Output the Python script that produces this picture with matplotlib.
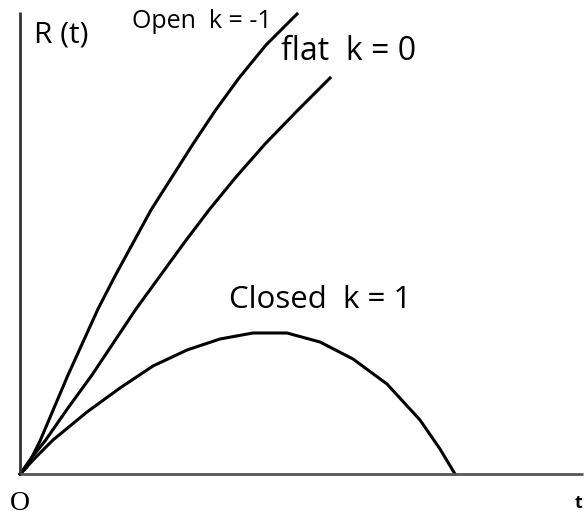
import matplotlib.pyplot as plt

# curve samples (t, R), origin at axis corner
open_t = [0, 7, 20, 34, 48, 63, 78, 95, 113, 131, 152, 173, 195, 219, 246, 277]
open_R = [0, 7, 33, 66, 99, 132, 165, 198, 231, 264, 297, 330, 363, 396, 429, 460]

flat_t = [0, 12, 25, 48, 72, 94, 116, 140, 164, 189, 216, 245, 277, 310]
flat_R = [0, 17, 33, 66, 99, 132, 165, 198, 231, 264, 297, 330, 363, 396]

closed_t = [0, 17, 33, 67, 100, 133, 167, 200, 233, 267, 300, 333, 367, 400, 420, 435]
closed_R = [0, 18, 34, 62, 86, 108, 124, 135, 141, 141, 132, 115, 90, 54, 25, 0]

plt.rcParams['font.family'] = ['Open Sans', 'DejaVu Sans']

fig = plt.figure(figsize=(5.87, 5.17), dpi=100)
ax = fig.add_axes([0, 0, 1, 1])
ax.set_xlim(-20, 567)
ax.set_ylim(-43, 474)
ax.axis('off')

for t, R in [(open_t, open_R), (flat_t, flat_R), (closed_t, closed_R)]:
    ax.plot(t, R, color='black', lw=2.2, solid_joinstyle='round')

# axes
ax.plot([0, 0], [0, 462], color='#333333', lw=2, solid_capstyle='butt')
ax.plot([0, 563], [0, 0], color='#555555', lw=2, solid_capstyle='butt')

ax.text(14, 439, 'R (t)', fontsize=21.5, va='center', ha='left')
ax.text(112, 452, 'Open  k = -1', fontsize=18, va='center', ha='left')
ax.text(261, 423, 'flat  k = 0', fontsize=23, va='center', ha='left')
ax.text(209, 174, 'Closed  k = 1', fontsize=22.5, va='center', ha='left')
ax.text(-10, -29, 'O', fontsize=20, family='Liberation Serif', va='center', ha='left')
ax.text(555, -29, 't', fontsize=13, fontweight='bold', va='center', ha='left')

fig.savefig('out.png', dpi=100)
